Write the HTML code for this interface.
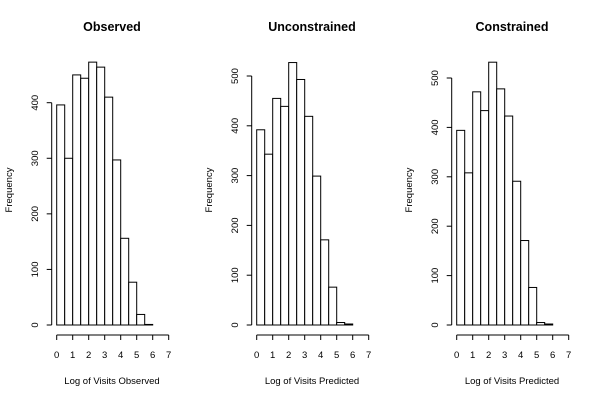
<!DOCTYPE html>
<html><head><meta charset="utf-8"><style>
body{margin:0;background:#fff}
svg{display:block;font-family:"Liberation Sans",Arial,sans-serif}
</style></head><body>
<svg id="c" width="600" height="400"></svg>
<script>
const titles=["Observed","Unconstrained","Constrained"];
const xLabels=["Log of Visits Observed","Log of Visits Predicted","Log of Visits Predicted"];
const binEdges=[0,0.5,1,1.5,2,2.5,3,3.5,4,4.5,5,5.5,6];
const observedCounts=[396,300,450,444,473,464,410,297,156,77,19,1];
const unconstrainedCounts=[392,343,455,439,527,493,419,299,171,76,5,2];
const constrainedCounts=[394,308,472,434,532,478,423,291,171,76,5,2];
const xTicks=[0,1,2,3,4,5,6,7];
const yTicks1=[0,100,200,300,400];
const yTicks2=[0,100,200,300,400,500];
const yTicks3=[0,100,200,300,400,500];
const NS="http://www.w3.org/2000/svg";
const svg=document.getElementById('c');
function mk(t,a,p){const e=document.createElementNS(NS,t);for(const k in a)e.setAttribute(k,a[k]);(p||svg).appendChild(e);return e;}
const panels=[[observedCounts,yTicks1,325-102.7],[unconstrainedCounts,yTicks2,(325-76)/500*400],[constrainedCounts,yTicks3,(325-78)/500*400]];
panels.forEach((pd,i)=>{
  const [counts,yt,px400]=pd;
  const off=i*200;
  const g=mk('g',{});
  
  
  const xs=v=>off+56.7+v*16;
  const ys=v=>325-v*px400/400;
  const t=mk('text',{x:off+112,y:31,'text-anchor':'middle','font-size':'12.5','font-weight':'bold'},g);t.textContent=titles[i];
  
  counts.forEach((c,j)=>{
    const r=mk('rect',{x:xs(binEdges[j]),y:ys(c),width:xs(binEdges[j+1])-xs(binEdges[j]),height:ys(0)-ys(c),fill:'#fff',stroke:'#000','stroke-width':1},g);
    
    
  });
  // x axis
  const xa=mk('g',{},g);
  mk('line',{x1:xs(xTicks[0]),x2:xs(xTicks[xTicks.length-1]),y1:335,y2:335,stroke:'#000'},xa);
  xTicks.forEach(v=>{mk('line',{x1:xs(v),x2:xs(v),y1:335,y2:340,stroke:'#000'},xa);
    const l=mk('text',{x:xs(v),y:358,'text-anchor':'middle','font-size':'9.5'},xa);l.textContent=v;});
  const xl=mk('text',{x:off+112,y:384,'text-anchor':'middle','font-size':'9.5'},g);xl.textContent=xLabels[i];
  
  // y axis
  const ya=mk('g',{},g);
  const ax=off+51.7;
  mk('line',{x1:ax,x2:ax,y1:ys(yt[0]),y2:ys(yt[yt.length-1]),stroke:'#000'},ya);
  yt.forEach(v=>{mk('line',{x1:ax-5,x2:ax,y1:ys(v),y2:ys(v),stroke:'#000'},ya);
    const l=mk('text',{x:off+38,y:ys(v),'text-anchor':'middle','font-size':'9.5',transform:`rotate(-90 ${off+38} ${ys(v)})`},ya);l.textContent=v;});
  const yl=mk('text',{x:off+12,y:190,'text-anchor':'middle','font-size':'9.5',transform:`rotate(-90 ${off+12} 190)`},g);yl.textContent='Frequency';
  
});
</script>
</body></html>
